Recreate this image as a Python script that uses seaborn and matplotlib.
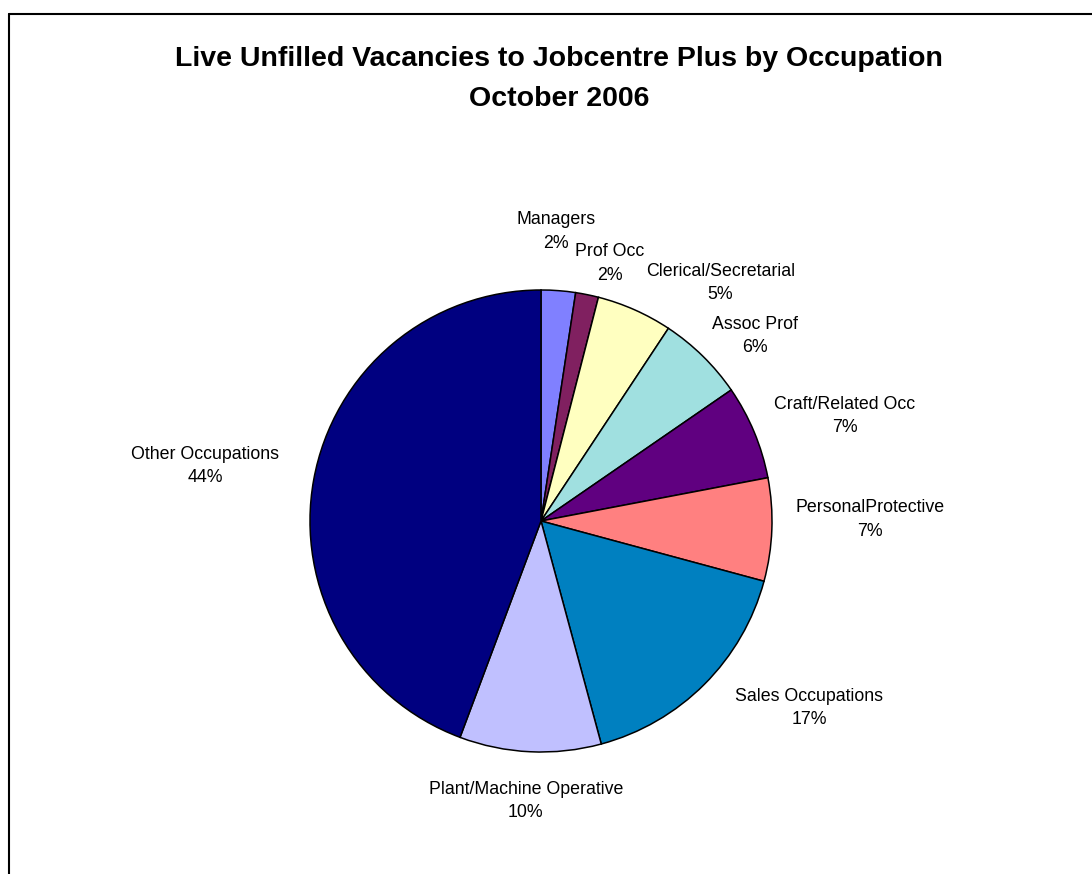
import numpy as np
import matplotlib
matplotlib.use("Agg")
import matplotlib.pyplot as plt
from matplotlib.lines import Line2D
import seaborn as sns

# ---- data ----
categories = ["Managers", "Prof Occ", "Clerical/Secretarial", "Assoc Prof",
              "Craft/Related Occ", "PersonalProtective", "Sales Occupations",
              "Plant/Machine Operative", "Other Occupations"]
values = [2.4, 1.6, 5.3, 6.1, 6.6, 7.2, 16.6, 9.9, 44.3]
colors = ["#8080FF", "#802060", "#FFFFC0", "#A0E0E0", "#600080",
          "#FF8080", "#0080C0", "#C0C0FF", "#000080"]
title = "Live Unfilled Vacancies to Jobcentre Plus by Occupation\nOctober 2006"

# label placement styling (radial distance factor, clockwise nudge in degrees)
label_dist = [1.255, 1.154, 1.29, 1.225, 1.39, 1.424, 1.415, 1.213, 1.473]
label_nudge = [-1.3, 3.5, 13.1, 4.7, 3.6, -2.4, -10.1, 0.4, -1.0]

sns.set_theme(style="white")
plt.rcParams["font.family"] = ["Liberation Sans", "DejaVu Sans"]

W, H = 1092, 874
fig = plt.figure(figsize=(W / 100, H / 100), dpi=100)
fig.patch.set_facecolor("white")

cx, cy, R = 541, 874 - 521, 231
ax = fig.add_axes([(cx - R) / W, (cy - R) / H, 2 * R / W, 2 * R / H])
wedges, _ = ax.pie(values, colors=colors, startangle=90, counterclock=False,
                   radius=1.0,
                   wedgeprops=dict(edgecolor="black", linewidth=1.1))
ax.set_xlim(-1, 1)
ax.set_ylim(-1, 1)
ax.set_aspect("equal")
ax.axis("off")

total = sum(values)
for w, name, v, d, n in zip(wedges, categories, values, label_dist, label_nudge):
    mid = np.deg2rad((w.theta1 + w.theta2) / 2 - n)
    x, y = d * np.cos(mid), d * np.sin(mid)
    ax.text(x, y, f"{name}\n{v / total * 100:.0f}%", ha="center", va="center",
            multialignment="center", fontsize=12.8, color="black",
            linespacing=1.5, clip_on=False)

fig.text(559 / W, 1 - 46 / H, title, ha="center", va="top", fontsize=20.5,
         fontweight="bold", linespacing=1.7, color="black")

# chart frame (left and top edges visible)
fig.add_artist(Line2D([8.5 / W, 8.5 / W], [0, 1 - 13.5 / H], color="black",
                      linewidth=1.5, transform=fig.transFigure))
fig.add_artist(Line2D([8.5 / W, 1], [1 - 13.5 / H, 1 - 13.5 / H], color="black",
                      linewidth=1.5, transform=fig.transFigure))

fig.savefig("out.png", dpi=100, facecolor="white")
